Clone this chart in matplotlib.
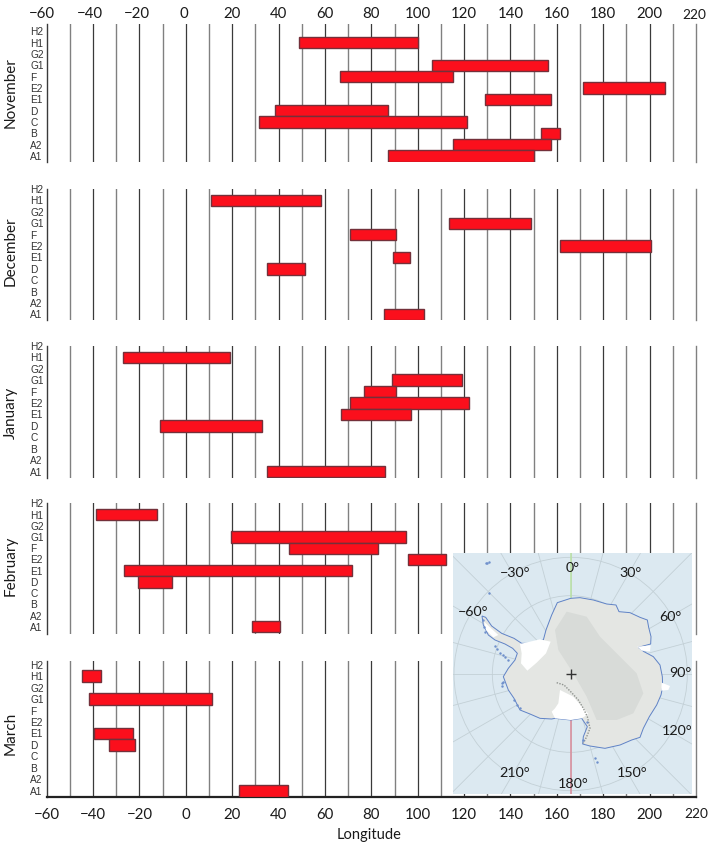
import numpy as np
from matplotlib import pyplot as plt
from matplotlib.patches import Circle
from matplotlib.transforms import ScaledTranslation

W, H = 709, 846

categories = ["A1", "A2", "B", "C", "D", "E1", "E2", "F", "G1", "G2", "H1", "H2"]
x_ticks = list(range(-60, 221, 20))

months = ["November", "December", "January", "February", "March"]

nov_rows = ["H1", "G1", "F", "E2", "E1", "D", "C", "B", "A2", "A1"]
nov_from = [48.9, 106.2, 66.6, 171.1, 129.1, 38.6, 31.5, 153.3, 115.3, 87.3]
nov_to = [100.1, 156.3, 115.3, 206.5, 157.6, 87.3, 121.2, 161.2, 157.3, 150.3]

dec_rows = ["H1", "G1", "F", "E2", "E1", "D", "A1"]
dec_from = [10.9, 113.4, 71.0, 161.4, 89.2, 35.1, 85.3]
dec_to = [58.2, 148.8, 90.8, 200.7, 96.5, 51.4, 102.5]

jan_rows = ["H1", "G1", "F", "E2", "E1", "D", "A1"]
jan_from = [-27.2, 89.1, 77.0, 71.0, 66.8, -11.2, 34.9]
jan_to = [18.9, 119.0, 90.8, 122.2, 97.0, 33.0, 86.0]

feb_rows = ["H1", "G1", "F", "E2", "E1", "D", "A1"]
feb_from = [-38.6, 19.6, 44.7, 96.0, -26.5, -20.5, 28.7]
feb_to = [-12.4, 94.8, 83.0, 112.1, 71.8, -6.1, 40.8]

mar_rows = ["H1", "G1", "E1", "D", "A1"]
mar_from = [-44.9, -41.7, -39.7, -33.0, 23.0]
mar_to = [-36.7, 11.2, -22.8, -21.8, 44.2]

all_rows = [nov_rows, dec_rows, jan_rows, feb_rows, mar_rows]
all_from = [nov_from, dec_from, jan_from, feb_from, mar_from]
all_to = [nov_to, dec_to, jan_to, feb_to, mar_to]

# panel layout in reference pixels: line top, line bottom, H2 row, A1 row, month label y
panel_top = [24, 189, 345.8, 503.3, 661]
panel_bottom = [162, 320.2, 478, 633.7, 796.7]
row_h2 = [31.3, 188.5, 345.3, 502.9, 664.7]
row_a1 = [156, 314.4, 471.5, 626.8, 790.8]
month_y = [93, 251, 413, 566, 733]
LEFT, RIGHT = 46.7, 696

# inset map outlines
land_x = [392, 420, 460, 500, 528, 537, 570, 600, 622, 626, 633, 632, 595, 612, 640, 660, 667, 668, 663, 650, 628, 610, 600, 575, 540, 495, 450, 428, 430, 442, 425, 392, 345, 335, 300, 270, 240, 222, 205, 190, 205, 225, 232, 218, 195, 165, 145, 130, 126, 137, 155, 185, 222, 245, 265, 310, 318, 335, 352]
land_y = [175, 173, 180, 192, 195, 215, 218, 232, 240, 262, 290, 312, 322, 335, 350, 375, 410, 440, 465, 495, 530, 565, 592, 600, 615, 625, 618, 612, 590, 560, 535, 540, 535, 537, 535, 522, 510, 475, 450, 410, 385, 360, 340, 325, 312, 300, 285, 255, 228, 232, 258, 280, 295, 310, 310, 300, 270, 225, 188]
plateau_x = [380, 440, 480, 520, 590, 610, 580, 530, 470, 440, 400, 355, 345]
plateau_y = [215, 230, 290, 330, 400, 460, 520, 540, 540, 470, 400, 330, 270]
ross_x = [360, 400, 430, 445, 425, 392, 345, 335, 345, 355]
ross_y = [450, 470, 505, 522, 535, 540, 535, 515, 505, 490]
ronne_x = [240, 300, 332, 318, 290, 262, 243, 245]
ronne_y = [312, 298, 305, 340, 368, 392, 370, 340]
amery_x = [592, 632, 630, 605]
amery_y = [320, 316, 334, 332]
shackleton_x = [665, 690, 685, 664]
shackleton_y = [428, 438, 450, 452]
larsen_x = [132, 150, 175, 160, 138]
larsen_y = [245, 262, 285, 292, 270]
isle_x = [137, 142, 147, 148, 128, 132, 135, 165, 172, 180, 188, 195, 205, 185, 187, 190, 222, 232, 240, 428, 440, 465, 472]
isle_y = [68, 68, 67, 160, 240, 262, 275, 318, 328, 340, 345, 350, 360, 430, 438, 425, 480, 495, 505, 600, 545, 655, 665]
ridge_x = [350, 372, 395, 415, 430, 442, 450, 440, 430]
ridge_y = [428, 435, 458, 480, 505, 530, 565, 590, 610]
coord_labels = ["0°", "−30°", "30°", "−60°", "60°", "90°", "120°", "150°", "180°", "210°"]
coord_x = [397, 225, 573, 98, 692, 720, 712, 576, 400, 225]
coord_y = [83, 100, 100, 215, 232, 400, 573, 700, 733, 698]
# top labels sit a little left of their lines in the picture
top_label_shift = [4.7, 2.8, 2.5, 2.3, 0, 0, 0, 0, 0, 0, 0, 0, 0, 0, 1.3]


def px_axes(fig, left, right, top, bottom):
    return fig.add_axes([left / W, 1 - bottom / H, (right - left) / W, (bottom - top) / H])


fig = plt.figure(figsize=(W / 100, H / 100), dpi=100)

for i, month in enumerate(months):
    ax = px_axes(fig, LEFT, RIGHT, panel_top[i], panel_bottom[i])
    per_row = (row_a1[i] - row_h2[i]) / 11
    ax.set_ylim(-(panel_bottom[i] - row_a1[i]) / per_row, 11 + (row_h2[i] - panel_top[i]) / per_row)
    ax.set_xlim(-60, 220)

    for v in range(-50, 220, 10):
        if v % 20 == 0:
            ax.axvline(v, color="#3a3a3a", lw=0.9, zorder=1)
        else:
            ax.axvline(v, color="#808080", lw=1.0, zorder=1)

    y = [categories.index(r) for r in all_rows[i]]
    left = np.array(all_from[i])
    ax.barh(y, np.array(all_to[i]) - left, left=left, height=1.0,
            facecolor="#fb0f1c", edgecolor="#74303a", lw=1.0, zorder=3)

    ax.set_yticks(range(12))
    ax.set_yticklabels(categories, fontsize=7.3, family="Liberation Sans", color="#333333", ha="left")
    ax.tick_params(axis="y", length=0, pad=12)
    ax.set_xticks(x_ticks)
    ax.tick_params(axis="x", length=0)

    ax.spines["top"].set_visible(False)
    ax.spines["bottom"].set_visible(False)
    ax.spines["left"].set_color("#3a3a3a")
    ax.spines["left"].set_linewidth(1.0)
    ax.spines["right"].set_color("#808080")
    ax.spines["right"].set_linewidth(1.0)

    if i == 0:
        ax.tick_params(axis="x", top=False, labeltop=True, bottom=False, labelbottom=False, pad=2.5)
        labels = ax.get_xticklabels(which="major")
        for t, dx in zip(ax.xaxis.get_major_ticks(), top_label_shift):
            t.label2.set_transform(t.label2.get_transform() + ScaledTranslation(-dx / 100, 0, fig.dpi_scale_trans))
            t.label2.set_family("Lato")
            t.label2.set_fontsize(10.8)
            t.label2.set_color("#1a1a1a")
        ax.xaxis.get_major_ticks()[-1].label2.set_fontsize(9.8)
    elif i == 4:
        ax.spines["bottom"].set_visible(True)
        ax.spines["bottom"].set_color("#222222")
        ax.spines["bottom"].set_linewidth(1.6)
        ax.tick_params(axis="x", pad=8)
        for t in ax.get_xticklabels():
            t.set_family("Lato")
            t.set_fontsize(10.8)
            t.set_color("#1a1a1a")
        ax.get_xticklabels()[-1].set_fontsize(9.8)
    else:
        ax.tick_params(axis="x", labelbottom=False)

    fig.text(11 / W, 1 - month_y[i] / H, month, rotation=90, family="Lato", fontsize=11,
             color="#1a1a1a", ha="center", va="center")

fig.text(369.5 / W, 1 - 835 / H, "Longitude", family="Lato", fontsize=10.5, color="#1a1a1a",
         ha="center", va="center")

# Antarctica inset
m = px_axes(fig, 440 + 38 / 3, 440 + 755 / 3, 540 + 38 / 3, 540 + 762 / 3)
m.set_xlim(38, 755)
m.set_ylim(762, 38)
m.set_facecolor("#dce9f1")
m.set_xticks([])
m.set_yticks([])
for s in m.spines.values():
    s.set_visible(False)

POLE = (392, 402)
for r in (235, 350):
    m.add_patch(Circle(POLE, r, fill=False, ec="#c3d0d6", lw=0.6, zorder=1))
for a in np.radians(np.arange(0, 360, 15)):
    m.plot([POLE[0], POLE[0] + 700 * np.sin(a)], [POLE[1], POLE[1] - 700 * np.cos(a)],
           color="#c3d0d6", lw=0.6, zorder=1)
m.plot([392, 392], [38, 170], color="#b9e2a2", lw=1.1, zorder=2)
m.plot([392, 392], [540, 762], color="#d9909e", lw=1.2, zorder=2)

m.fill(land_x, land_y, facecolor="#e4e6e3", edgecolor="#5f82c6", lw=0.7, zorder=3)
m.fill(plateau_x, plateau_y, facecolor="#d8dbd8", edgecolor="none", zorder=4)
m.fill(ross_x, ross_y, facecolor="white", edgecolor="none", zorder=5)
m.fill(ronne_x, ronne_y, facecolor="white", edgecolor="none", zorder=5)
m.fill(amery_x, amery_y, facecolor="white", edgecolor="none", zorder=5)
m.fill(shackleton_x, shackleton_y, facecolor="white", edgecolor="none", zorder=5)
m.fill(larsen_x, larsen_y, facecolor="white", edgecolor="none", zorder=5)
m.plot(ridge_x, ridge_y, color="#8f938f", lw=1.0, ls=(0, (1, 1)), zorder=5)
m.plot(isle_x, isle_y, ls="none", marker=".", ms=1.5, color="#6f90cc", zorder=5)
m.plot([392], [402], marker="+", ms=7, mew=1, color="#333333", zorder=6)

for label, cx, cy in zip(coord_labels, coord_x, coord_y):
    m.text(cx, cy, label, family="Lato", fontsize=10.3, color="#1a1a1a", ha="center", va="center", zorder=7)

fig.savefig("out.png", dpi=100)
